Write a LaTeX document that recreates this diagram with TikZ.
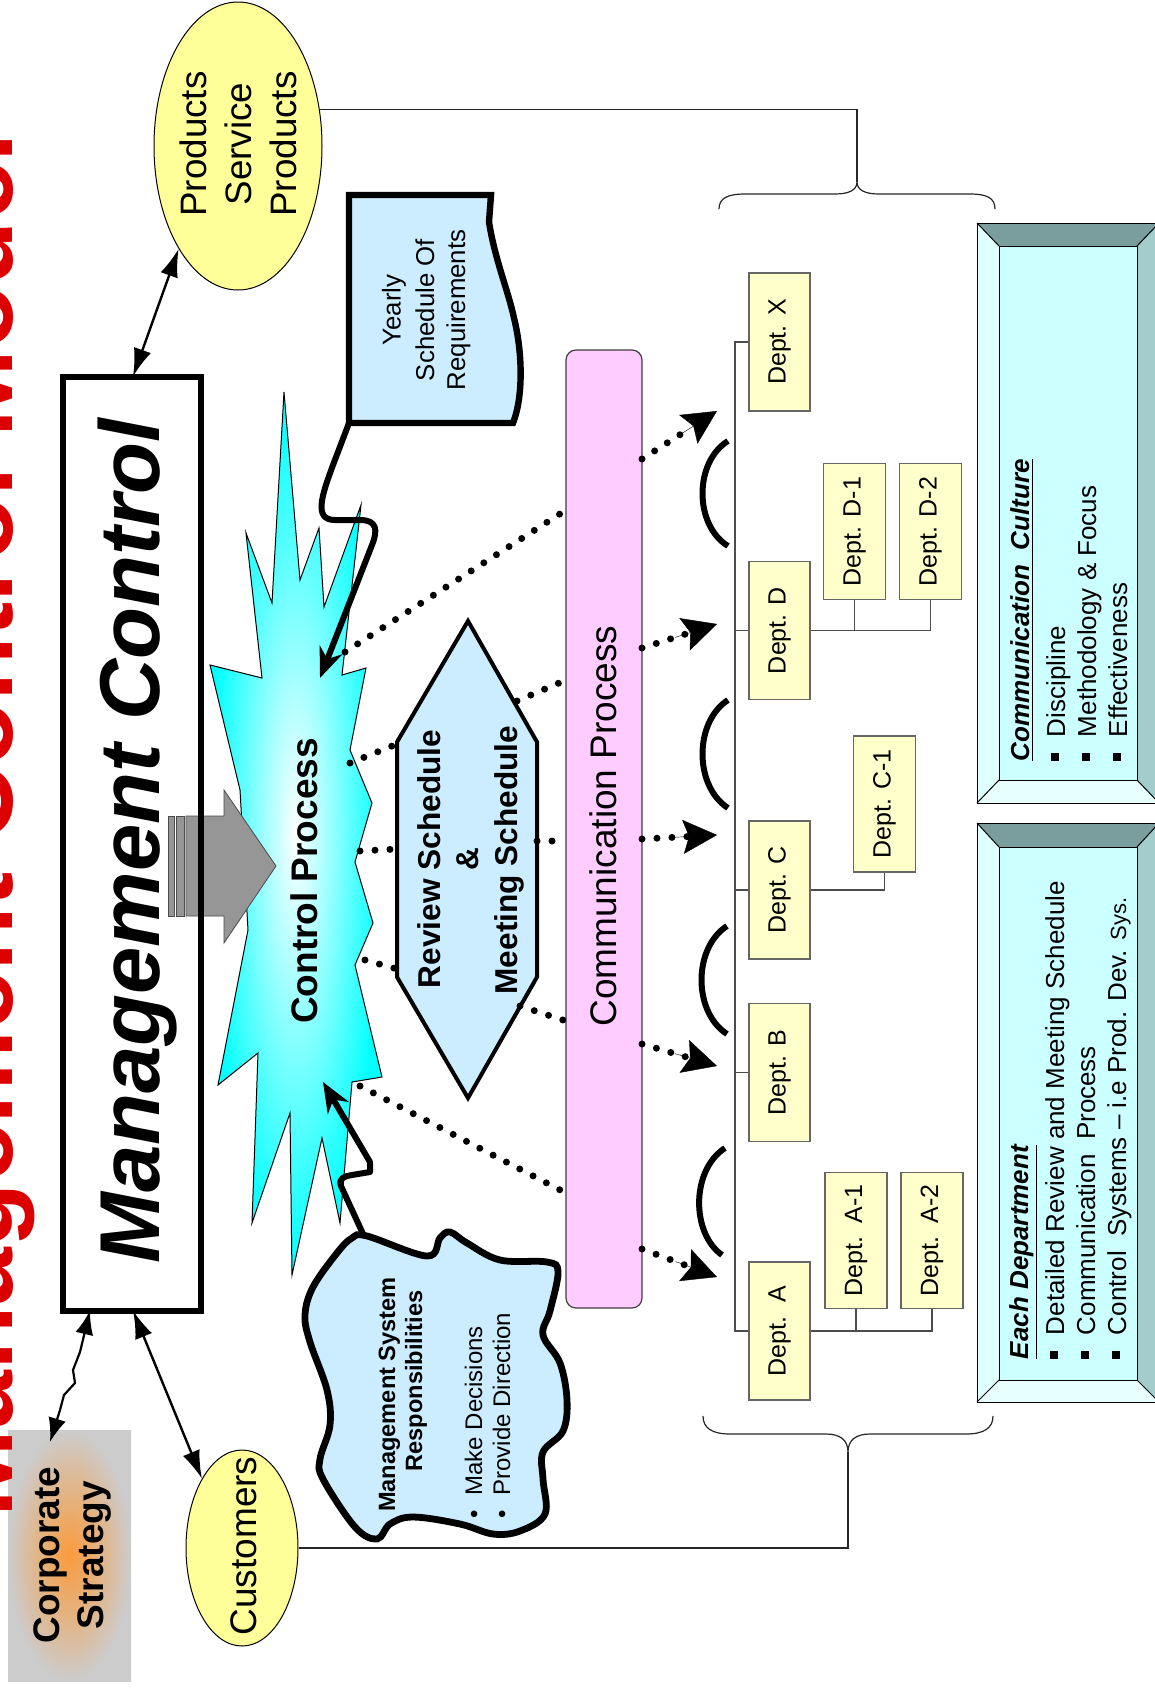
\documentclass[tikz,border=0pt]{standalone}
\usepackage{fontspec}
\setmainfont{Liberation Sans}
\usetikzlibrary{arrows.meta,shapes.geometric,calc}
\definecolor{yel}{RGB}{255,255,153}
\definecolor{lb}{RGB}{204,236,255}
\definecolor{pinkc}{RGB}{255,204,255}
\definecolor{depty}{RGB}{255,255,204}
\definecolor{face}{RGB}{204,255,255}
\definecolor{bvtop}{RGB}{122,158,158}
\definecolor{bvright}{RGB}{163,204,204}
\definecolor{bvleft}{RGB}{224,255,255}
\definecolor{bvbot}{RGB}{232,255,255}
\definecolor{tred}{RGB}{221,0,0}
\definecolor{cyanc}{RGB}{0,255,255}
\definecolor{orng}{RGB}{250,155,60}
\definecolor{grayc}{RGB}{204,204,204}
\definecolor{arrg}{RGB}{150,150,150}
\newcommand\myfs[1]{\fontsize{#1}{#1}\selectfont}
\newcommand\bsq{\raisebox{3pt}{\rule{4pt}{4pt}}\hspace{8pt}}
\begin{document}
\begin{tikzpicture}[x=0.5pt,y=-0.5pt,
  tx/.style={inner sep=0pt, outer sep=0pt, rotate=90, anchor=base},
  txl/.style={inner sep=0pt, outer sep=0pt, rotate=90, anchor=base west},
  dept/.style={draw=black!60, line width=0.6pt, fill=depty, rotate=90, inner sep=0pt,
     minimum width=69pt, minimum height=30.5pt, font=\myfs{12.5}},
  subdept/.style={dept, minimum width=68pt, minimum height=31pt},
  dotl/.style={line width=3.5pt, line cap=round, dash pattern=on 0pt off 7.5pt},
  headtip/.style={line width=0.2pt, -{Stealth[length=17pt,width=17pt,inset=3pt]}},
  dbl/.style={line width=1.2pt, {Latex[length=14pt,width=9pt]}-{Latex[length=14pt,width=9pt]}},
  thickconn/.style={line width=3pt, line join=round, -{Stealth[length=15pt,width=12pt]}},
  org/.style={draw=black!70, line width=0.6pt},
  brace/.style={draw=black!85, line width=0.6pt},
  arcp/.style={line width=3pt}
]
\useasboundingbox (0,0) rectangle (1155,1688);
\clip (0,0) rectangle (1155,1688);
\fill[white] (0,0) rectangle (1155,1688);

% ---------- ellipses and connecting lines to braces
\node[ellipse, draw=black, line width=0.5pt, fill=yel, minimum width=84pt, minimum height=144pt, inner sep=0pt] (prod) at (238,146) {};
\node[ellipse, draw=black, line width=0.5pt, fill=yel, minimum width=56pt, minimum height=98pt, inner sep=0pt] (cust) at (242,1548) {};
\coordinate (ttip) at (857,182);
\coordinate (btip) at (848,1452);
\draw[brace] (prod.24) -| (ttip);
\draw[brace] (cust.east) -| (btip);
\draw[brace] (719,209) .. controls (719,198) and (728,194) .. (745,194) -- (835,194)
  .. controls (849,194) and (857,190) .. (ttip) .. controls (857,190) and (865,194) .. (879,194)
  -- (970,194) .. controls (987,194) and (995,198) .. (995,209);
\draw[brace] (703,1416) .. controls (703,1428) and (712,1434) .. (730,1434) -- (826,1434)
  .. controls (840,1434) and (848,1440) .. (btip) .. controls (848,1440) and (856,1434) .. (870,1434)
  -- (966,1434) .. controls (984,1434) and (993,1428) .. (993,1416);

\node[tx, font=\myfs{18.4}] (p1) at (206.5,144) {Products};
\node[tx, font=\myfs{18.4}] (p2) at (251.5,144) {Service};
\node[tx, font=\myfs{18.4}] (p3) at (296.5,144) {Products};
\node[tx, font=\myfs{18.5}] (ct) at (256,1546) {Customers};

% ---------- corporate strategy
\node[shade, inner color=orng, outer color=grayc, minimum width=61.5pt, minimum height=125.5pt, inner sep=0pt, outer sep=0pt] (cs) at (69.5,1555.5) {};
\node[tx, font=\myfs{18.5}\bfseries] (cs1) at (60,1555) {Corporate};
\node[tx, font=\myfs{18.5}\bfseries] (cs2) at (103,1555) {Strategy};

% ---------- management control box (fill)
\node[fill=white, draw=none, minimum width=69pt, minimum height=467pt, inner sep=0pt, outer sep=0pt] (mc) at (131.5,843.5) {};

% ---------- starburst
\shadedraw[inner color=white, outer color=cyanc, draw=black, line width=0.5pt]
 (284,392) -- (300,580) -- (319,528) -- (324,607) -- (361,505) -- (342,675) -- (366,668)
 -- (350,750) -- (372,803) -- (355,862) -- (373,923) -- (355,965) -- (382,1077) -- (352,1082)
 -- (340,1223) -- (322,1138) -- (292,1275) -- (290,1113) -- (252,1223) -- (258,1053)
 -- (218,1085) -- (248,930) -- (240,790) -- (210,665) -- (262,678) -- (246,533) -- (272,603) -- cycle;

% ---------- gray arrow
\filldraw[fill=arrg, draw=black!70, line width=0.4pt]
 (186,816) -- (224,816) -- (224,790) -- (276,866) -- (224,943) -- (224,916) -- (186,916) -- cycle;
\filldraw[fill=arrg, draw=black!70, line width=0.4pt] (168,816) rectangle (174,916);
\filldraw[fill=arrg, draw=black!70, line width=0.4pt] (176,816) rectangle (184,916);

\draw[line width=3pt] (mc.south west) rectangle (mc.north east);
\node[tx, font=\myfs{42.5}\bfseries\itshape] (mct) at (159,841) {Management Control};
\node[tx, font=\myfs{18.5}\bfseries] (cpt) at (317,881) {Control Process};

% ---------- double arrows
\draw[dbl] (mc.north -| 133,0) -- (prod.240);
\draw[dbl] (mc.south -| 133,0) -- (cust.120);
\coordinate (csTop) at (50,1442);
\draw[line width=1.1pt, line join=round, {Latex[length=12pt,width=9pt]}-{Latex[length=12pt,width=9pt]}]
 (mc.south -| 90,0) -- (80,1352) -- (73,1370) -- (75,1383) -- (64,1395) -- (60,1410) -- (csTop);

% ---------- yearly schedule
\filldraw[fill=lb, draw=black, line width=3.2pt]
 (349,195) -- (491,195) -- (489,222) .. controls (495,260) and (508,290) .. (514,318)
 .. controls (522,350) and (524,395) .. (513,423) -- (349,423) -- cycle;
\coordinate (ysc) at (349,423);
\node[tx, font=\myfs{12.9}] (y1) at (400.5,310) {Yearly};
\node[tx, font=\myfs{12.9}] (y2) at (434,310) {Schedule Of};
\node[tx, font=\myfs{12.9}] (y3) at (465,310) {Requirements};
\coordinate (cpA) at (320,678);
\draw[thickconn] (ysc) -- (333,465) .. controls (322,495) and (313,520) .. (335,520) -- (360,520)
  .. controls (377,520) and (378,530) .. (372,545) -- (cpA);

% ---------- management system cloud
\filldraw[fill=lb, draw=black, line width=3.4pt] plot[smooth cycle, tension=0.6] coordinates {
 (377,1539) (355,1527) (323,1479) (320,1459) (330,1425) (327,1390) (310,1342) (305,1315)
 (313,1287) (337,1253) (352,1238) (367,1236) (427,1256) (440,1238) (450,1232) (467,1243)
 (500,1260) (547,1262) (558,1272) (550,1311) (543,1335) (560,1363) (567,1400) (563,1431)
 (543,1452) (543,1479) (545,1514) (520,1531) (493,1534) (460,1524) (413,1517) (390,1524)};
\coordinate (msc) at (364,1236);
\coordinate (cpB) at (323,1082);
\draw[thickconn] (msc) -- (341,1186) .. controls (338,1178) and (345,1176) .. (352,1175) -- (370,1172) -- (370,1162) -- (cpB);
\node[tx, font=\myfs{11.8}\bfseries] (m1) at (395,1394.5) {Management System};
\node[tx, font=\myfs{11.8}\bfseries] (m2) at (422,1381) {Responsibilities};
\node[txl, font=\myfs{12}] (m3) at (482,1518) {\textbullet\hspace{7pt}Make Decisions};
\node[txl, font=\myfs{12}] (m4) at (510,1518) {\textbullet\hspace{7pt}Provide Direction};

% ---------- hexagon
\filldraw[fill=lb, draw=black, line width=2pt]
 (468,621) -- (537,742) -- (537,977) -- (468,1098) -- (397,977) -- (397,742) -- cycle;
\node[tx, font=\myfs{15.8}\bfseries] (h1t) at (440,859) {Review Schedule};
\node[tx, font=\myfs{15.8}\bfseries] (h2t) at (478,859) {\&};
\node[tx, font=\myfs{15.8}\bfseries] (h3t) at (517,860) {Meeting Schedule};

% ---------- communication process
\node[draw=black!75, line width=0.6pt, fill=pinkc, rounded corners=5pt, minimum width=38pt, minimum height=479pt, inner sep=0pt, outer sep=0pt] (comm) at (604,829) {};
\node[tx, font=\myfs{18.5}] (commt) at (616.5,826) {Communication Process};

% ---------- dotted connectors
\draw[dotl] (345,652) -- (comm.west |- 0,510);
\draw[dotl] (360,1086) -- (comm.west |- 0,1193);
\draw[dotl] (350,763) -- (397,744);
\draw[dotl] (360,851) -- (397,849);
\draw[dotl] (365,960) -- (397,969);
\draw[dotl] (517,701) -- (comm.west |- 0,680);
\draw[dotl] (537,841) -- (comm.west |- 0,841);
\draw[dotl] (520,1006) -- (comm.west |- 0,1021);
\foreach \ya/\tx/\ty [count=\i] in {459/717/411, 648/717/624, 839/717/835, 1044/717/1066, 1249/717/1277}{
  \coordinate (ds\i) at (comm.east |- 0,\ya);
  \coordinate (dt\i) at (\tx,\ty);
  \draw[dotl, shorten >=15pt] (ds\i) -- (dt\i);
  \draw[headtip] ($(dt\i)!22pt!(ds\i)$) -- (dt\i);
}

% ---------- parentheses
\draw[arcp] (728,441) .. controls (694,462) and (694,525) .. (728,546);
\draw[arcp] (728,700) .. controls (694,722) and (694,786) .. (728,808);
\draw[arcp] (727,926) .. controls (693,948) and (693,1012) .. (727,1034);
\draw[arcp] (725,1148) .. controls (691,1170) and (691,1233) .. (722,1255);

% ---------- departments
\coordinate (spine) at (735,0);
\node[dept] (dX) at (779.5,342) {Dept. X};
\node[dept] (dD) at (779.5,630.5) {Dept. D};
\node[dept] (dC) at (779.5,890) {Dept. C};
\node[dept] (dB) at (779.5,1072.5) {Dept. B};
\node[dept] (dA) at (779.5,1331) {Dept.\ \ A};
\node[subdept] (dD1) at (854.5,531.5) {Dept. D-1};
\node[subdept] (dD2) at (930.5,531.5) {Dept. D-2};
\node[subdept] (dC1) at (884.5,804) {Dept. C-1};
\node[subdept] (dA1) at (856,1240.5) {Dept.\ \ A-1};
\node[subdept] (dA2) at (932,1240.5) {Dept.\ \ A-2};
\draw[org] (dX.north) -- (dX.north -| spine) -- (dA.north -| spine) -- (dA.north);
\draw[org] (dD.north) -- (dD.north -| spine);
\draw[org] (dC.north) -- (dC.north -| spine);
\draw[org] (dB.north) -- (dB.north -| spine);
\draw[org] (dD.south) -- (dD.south -| dD2.west) -- (dD2.west);
\draw[org] (dD1.west) -- (dD1.west |- dD.south);
\draw[org] (dC.south) -- (dC.south -| dC1.west) -- (dC1.west);
\draw[org] (dA.south) -- (dA.south -| dA2.west) -- (dA2.west);
\draw[org] (dA1.west) -- (dA1.west |- dA.south);

% ---------- bevel boxes
\foreach \ya/\yb/\yc/\yd in {223/246/780/803, 823/847/1380/1402}{
  \fill[bvtop] (977,\ya) -- (1159,\ya) -- (1137,\yb) -- (999,\yb) -- cycle;
  \fill[bvleft] (977,\ya) -- (999,\yb) -- (999,\yc) -- (977,\yd) -- cycle;
  \fill[bvbot] (977,\yd) -- (999,\yc) -- (1137,\yc) -- (1159,\yd) -- cycle;
  \fill[bvright] (1159,\ya) -- (1137,\yb) -- (1137,\yc) -- (1159,\yd) -- cycle;
  \fill[face] (999,\yb) rectangle (1137,\yc);
  \draw[black, line width=0.5pt] (977,\ya) rectangle (1159,\yd);
  \draw[black, line width=0.5pt] (999,\yb) rectangle (1137,\yc);
  \draw[black, line width=0.5pt] (977,\ya) -- (999,\yb) (1159,\ya) -- (1137,\yb)
     (977,\yd) -- (999,\yc) (1159,\yd) -- (1137,\yc);
}
\node[txl, font=\myfs{13}\bfseries\itshape] (cc0) at (1029,761) {\underline{Communication\ \ Culture}};
\node[txl, font=\myfs{13}] (cc1) at (1065,761) {\bsq Discipline};
\node[txl, font=\myfs{13}] (cc2) at (1096,761) {\bsq Methodology \& Focus};
\node[txl, font=\myfs{13}] (cc3) at (1127,761) {\bsq Effectiveness};
\node[txl, font=\myfs{13}\bfseries\itshape] (ed0) at (1028,1359) {\underline{Each Department}};
\node[txl, font=\myfs{13}] (ed1) at (1064,1359) {\bsq Detailed Review and Meeting Schedule};
\node[txl, font=\myfs{13}] (ed2) at (1095,1359) {\bsq Communication\ \ Process};
\node[txl, font=\myfs{13}] (ed3) at (1126,1359) {\bsq Control\ \ Systems -- i.e Prod. Dev. {\myfs{11}Sys.}};

% ---------- title
\node[tx, text=tred, font=\myfs{52.8}\bfseries] (title) at (12,825) {Management Control Model};
\end{tikzpicture}
\end{document}
